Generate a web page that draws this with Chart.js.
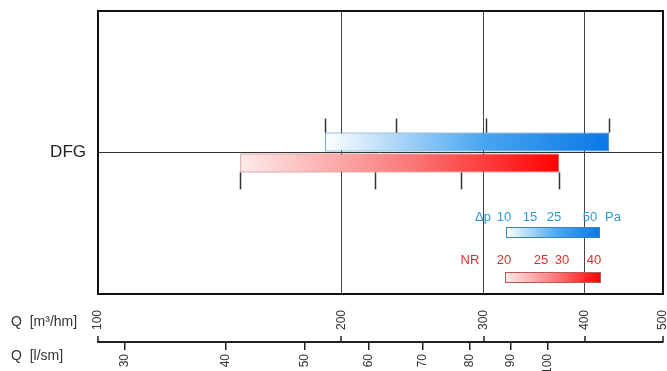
<!DOCTYPE html>
<html>
<head>
<meta charset="utf-8">
<script src="https://cdn.jsdelivr.net/npm/chart.js@4/dist/chart.umd.min.js"></script>
<style>
  html, body { margin: 0; padding: 0; background: #fff; }
  #wrap { width: 667px; height: 371px; position: relative; }
</style>
</head>
<body>
<div id="wrap"><canvas id="chart"></canvas></div>
<script>
// data (Q in m3/h)
const categories = ['DFG'];
const dpRange = [[191, 429]];          // blue bar, pressure drop
const nrRange = [[150, 372]];          // red bar, noise rating
const dpMarks = [10, 15, 25, 50];      // Pa
const dpMarkQ = [191, 234, 302, 429];
const nrMarks = [20, 25, 30, 40];
const nrMarkQ = [150, 220, 281, 372];
const qTicks = [100, 200, 300, 400, 500];          // m3/h
const lsTicks = [30, 40, 50, 60, 70, 80, 90, 100]; // l/s

const FONT = '"Liberation Sans", Arial, sans-serif';
const BLUE = ['#ffffff', '#4aa6ef', '#0a78e6'];
const RED = ['#fdeaea', '#fa7474', '#ff0000'];

function barGradient(ctx, x0, x1, stops) {
    const g = ctx.createLinearGradient(x0, 0, x1, 0);
    g.addColorStop(0, stops[0]);
    g.addColorStop(0.55, stops[1]);
    g.addColorStop(1, stops[2]);
    return g;
}

function rangeFill(stops) {
    return function(c) {
        const chart = c.chart;
        if (!chart.chartArea || !c.raw) return stops[2];
        const xs = chart.scales.x;
        return barGradient(chart.ctx, xs.getPixelForValue(c.raw[0]), xs.getPixelForValue(c.raw[1]), stops);
    };
}

// no extra edge padding from rotated labels
function noPad(s) {
    s.paddingLeft = 0;
    s.paddingRight = 0;
    s.paddingTop = 0;
    s.paddingBottom = 0;
}

// marks above/below the bars, frame, axis titles and the little legend
const extras = {
    id: 'extras',
    afterDatasetsDraw(chart) {
        const ctx = chart.ctx;
        const xs = chart.scales.x;
        const a = chart.chartArea;
        ctx.save();

        // scale marks on the bars
        ctx.strokeStyle = '#333';
        ctx.lineWidth = 1.5;
        const blue = chart.getDatasetMeta(0).data[0];
        const red = chart.getDatasetMeta(1).data[0];
        const blueTop = blue.y - blue.height / 2;
        const redBottom = red.y + red.height / 2;
        dpMarkQ.forEach(q => {
            const px = Math.round(xs.getPixelForValue(q)) + 0.5;
            ctx.beginPath();
            ctx.moveTo(px, blueTop - 14);
            ctx.lineTo(px, blueTop);
            ctx.stroke();
        });
        nrMarkQ.forEach(q => {
            const px = Math.round(xs.getPixelForValue(q)) + 0.5;
            ctx.beginPath();
            ctx.moveTo(px, redBottom);
            ctx.lineTo(px, redBottom + 17);
            ctx.stroke();
        });

        // legend (bottom right of the plot)
        const r = a.right;
        ctx.font = '13px ' + FONT;
        ctx.textBaseline = 'middle';
        ctx.fillStyle = '#2a9ad6';
        const dpX = [r - 159, r - 133, r - 109, r - 73];
        ctx.textAlign = 'right';
        ctx.fillText('\u0394p', r - 172, 217);
        ctx.textAlign = 'center';
        dpMarks.forEach((m, i) => ctx.fillText(String(m), dpX[i], 217));
        ctx.fillText('Pa', r - 50, 217);

        ctx.fillStyle = '#e0302a';
        const nrX = [r - 159, r - 122, r - 101, r - 69];
        ctx.fillText('NR', r - 193, 260);
        nrMarks.forEach((m, i) => ctx.fillText(String(m), nrX[i], 260));

        ctx.lineWidth = 1;
        ctx.fillStyle = barGradient(ctx, r - 157, r - 63, BLUE);
        ctx.fillRect(r - 157, 227, 94, 11);
        ctx.strokeStyle = '#3a84b8';
        ctx.strokeRect(r - 156.5, 227.5, 93, 10);
        ctx.fillStyle = barGradient(ctx, r - 158, r - 62, RED);
        ctx.fillRect(r - 158, 272, 96, 11);
        ctx.strokeStyle = '#b85a5a';
        ctx.strokeRect(r - 157.5, 272.5, 95, 10);

        // plot frame
        ctx.strokeStyle = '#111';
        ctx.lineWidth = 2;
        ctx.strokeRect(a.left, a.top, a.right - a.left, a.bottom - a.top);

        // small upward marks on the l/s axis line at the m3/h ticks
        const x2 = chart.scales.x2;
        ctx.lineWidth = 1.5;
        ctx.strokeStyle = '#222';
        qTicks.forEach(q => {
            const px = Math.round(xs.getPixelForValue(q));
            ctx.beginPath();
            ctx.moveTo(px, x2.top - 6);
            ctx.lineTo(px, x2.top);
            ctx.stroke();
        });

        // axis titles on the left
        ctx.fillStyle = '#333';
        ctx.font = '14px ' + FONT;
        ctx.textAlign = 'left';
        ctx.fillText('Q  [m\u00B3/hm]', 11, 322);
        ctx.fillText('Q  [l/sm]', 11, 356);
        ctx.restore();
    }
};

document.addEventListener('DOMContentLoaded', function() {
    const chartCtx = document.getElementById('chart').getContext('2d');
    new Chart(chartCtx, {
        type: 'bar',
        data: {
            labels: categories,
            datasets: [{
                label: 'Δp',
                data: dpRange,
                backgroundColor: rangeFill(BLUE),
                borderColor: '#3a84b8',
                borderWidth: 1,
                borderSkipped: false
            }, {
                label: 'NR',
                data: nrRange,
                backgroundColor: rangeFill(RED),
                borderColor: '#b85a5a',
                borderWidth: 1,
                borderSkipped: false
            }]
        },
        options: {
            indexAxis: 'y',
            responsive: true,
            maintainAspectRatio: false,
            animation: false,
            events: [],
            categoryPercentage: 0.148,
            barPercentage: 0.9,
            layout: { padding: { top: 11, right: 4, left: 0, bottom: 0 } },
            plugins: {
                legend: { display: false },
                tooltip: { enabled: false }
            },
            scales: {
                y: {
                    grid: { offset: false, color: '#333', lineWidth: 1, drawTicks: false },
                    border: { display: false },
                    ticks: { color: '#222', font: { family: FONT, size: 17 }, padding: 12 },
                    afterFit: s => { s.width = 98; noPad(s); }
                },
                x: {
                    type: 'logarithmic',
                    position: 'bottom',
                    min: 100,
                    max: 500,
                    afterBuildTicks: s => { s.ticks = qTicks.map(v => ({ value: v })); },
                    afterFit: s => { s.height = 48; noPad(s); },
                    grid: { color: '#444', lineWidth: 1, drawTicks: false },
                    border: { display: false },
                    ticks: {
                        autoSkip: false,
                        minRotation: 90,
                        maxRotation: 90,
                        padding: 16,
                        color: '#333',
                        font: { family: FONT, size: 12 },
                        callback: v => String(v)
                    }
                },
                x2: {
                    type: 'logarithmic',
                    position: 'bottom',
                    min: 100 / 3.6,
                    max: 500 / 3.6,
                    afterBuildTicks: s => { s.ticks = lsTicks.map(v => ({ value: v })); },
                    afterFit: s => { s.height = 29; noPad(s); },
                    grid: { drawOnChartArea: false, drawTicks: true, tickLength: 8, color: '#222', lineWidth: 1.5 },
                    border: { display: true, color: '#222', width: 2 },
                    ticks: {
                        autoSkip: false,
                        minRotation: 90,
                        maxRotation: 90,
                        padding: 4,
                        color: '#333',
                        font: { family: FONT, size: 12 },
                        callback: v => String(v)
                    }
                }
            }
        },
        plugins: [extras]
    });
});
</script>
</body>
</html>
